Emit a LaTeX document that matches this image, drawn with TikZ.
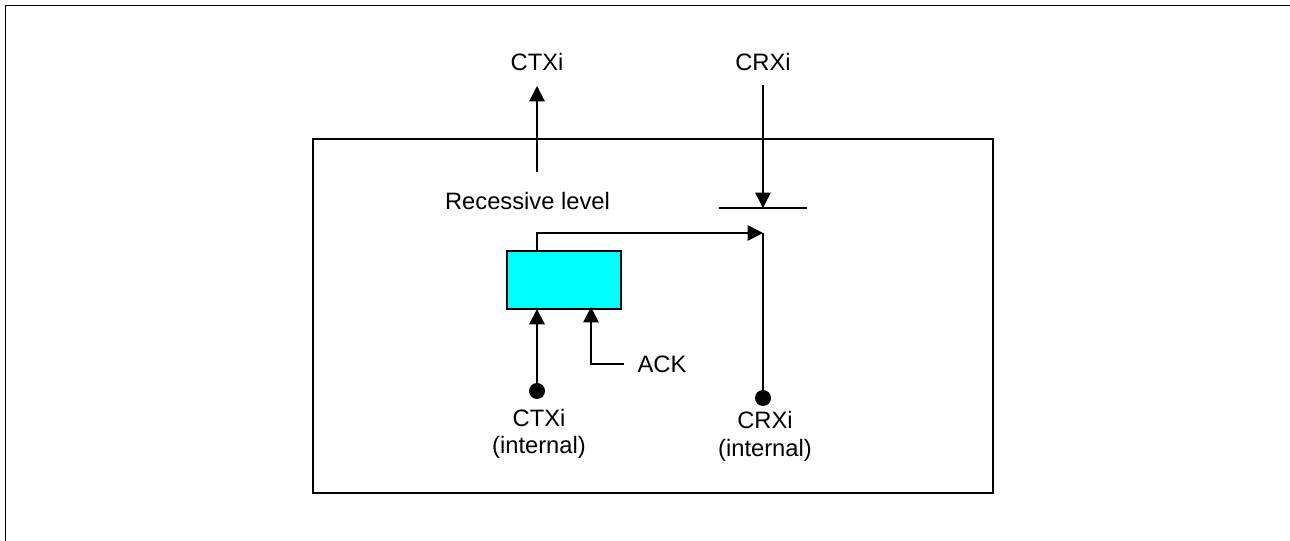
\documentclass[tikz,border=0pt]{standalone}
\usepackage{fontspec}
\setmainfont{Liberation Sans}
\usetikzlibrary{arrows.meta}
\definecolor{blockcyan}{RGB}{0,255,255}
\tikzset{
  x=0.75pt,y=-0.75pt,
  frame/.style={draw=black,line width=1.3pt},
  thin line/.style={draw=black,line width=0.9pt},
  conn/.style={draw=black,line width=1.5pt,-{Triangle[length=11.5pt,width=11.5pt]}},
  conn2/.style={draw=black,line width=1.1pt,-{Triangle[length=11.5pt,width=11.5pt]}},
  plain/.style={draw=black,line width=1.3pt},
  lbl/.style={inner sep=0pt,outer sep=0pt,align=center,font=\fontsize{17.8pt}{20.5pt}\selectfont},
  lblb/.style={inner sep=0pt,outer sep=0pt,align=center,font=\fontsize{17.8pt}{21.5pt}\selectfont},
  dot/.style={circle,fill=black,draw=none,minimum size=12pt,inner sep=0pt,outer sep=0pt},
  block/.style={draw=black,line width=1.2pt,fill=blockcyan,inner sep=0pt,outer sep=0pt}
}
\begin{document}
\begin{tikzpicture}
\useasboundingbox (0,0) rectangle (1290,541);
\coordinate (ol) at (5.5,541);
\coordinate (oc) at (5.5,5.5);
\coordinate (or) at (1290,5.5);
\draw[frame] (ol) -- (oc) -- (or);
\node[frame,inner sep=0pt,outer sep=0pt,minimum width=510pt,minimum height=265.5pt,anchor=north west] (chip) at (313,139) {};
\node[block,minimum width=85.5pt,minimum height=43.5pt,anchor=north west] (blk) at (507,251) {};
% labels
\node[lbl] (ctxo) at (537,62) {CTXi};
\node[lbl] (crxo) at (763,62) {CRXi};
\node[lbl] (rec) at (527.5,201) {Recessive level};
\node[lbl] (ack) at (662,364) {ACK};
\node[lbl] (ctxl) at (539,434) {CTXi\\(internal)};
\node[lblb] (crxl) at (765,436.5) {CRXi\\(internal)};
% points
\coordinate (rs) at (537,172);
\coordinate (ah) at (537,86);
\coordinate (cs) at (763,85);
\coordinate (barm) at (763,208);
\coordinate (barl) at (719,208);
\coordinate (barr) at (807,208);
\coordinate (sw) at (763,233);
\coordinate (bt) at (537,251);
\coordinate (bc) at (537,233);
\coordinate (bi1) at (537,309);
\coordinate (bi2) at (591,307);
\coordinate (ak) at (591,364);
\coordinate (ake) at (624,364);
\node[dot] (d1) at (537,391) {};
\node[dot] (d2) at (763,398) {};
% connectors
\draw[conn] (rs) -- (ah);
\draw[conn2] (cs) -- (barm);
\draw[thin line] (barl) -- (barr);
\draw[conn2] (bt) -- (bc) -- (sw);
\draw[plain] (sw) -- (d2);
\draw[conn] (d1) -- (bi1);
\draw[conn2] (ake) -- (ak) -- (bi2);
\end{tikzpicture}
\end{document}
